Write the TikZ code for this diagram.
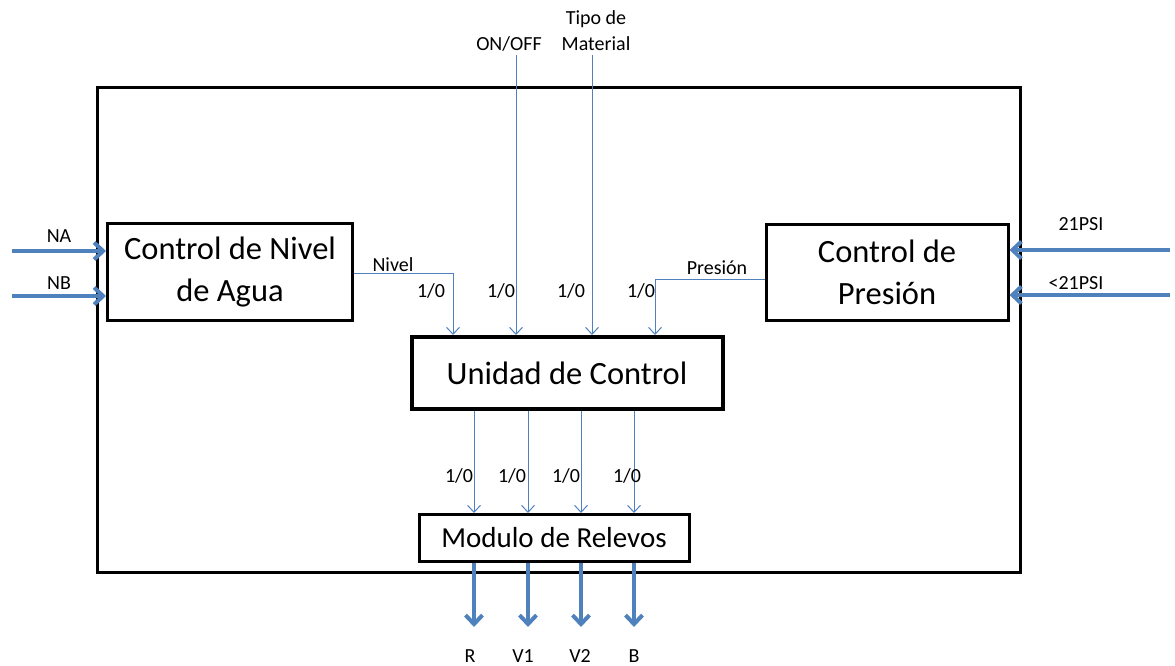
\documentclass[tikz,border=0pt]{standalone}
\usepackage{fontspec}
\setmainfont{Carlito}
\usetikzlibrary{arrows.meta}
\definecolor{sig}{RGB}{79,129,189}
\begin{document}
\begin{tikzpicture}[x=1pt,y=-1pt,
  blk/.style={draw=black,line width=3pt,inner sep=0pt,minimum width=#1},
  big/.style={font=\fontsize{32.5}{42}\selectfont,align=center},
  lbl/.style={font=\fontsize{20}{26}\selectfont,inner sep=0pt},
  thin/.style={draw=sig,line width=1pt,-{Straight Barb[length=7pt,width=13pt]}},
  thick/.style={draw=sig,line width=4pt,-{Straight Barb[length=9pt,width=17pt]}}]
\useasboundingbox (0,0) rectangle (1175,666);
% enclosure
\draw[line width=3pt] (97,88) rectangle (1020,572);
% blocks
\node[blk=245pt,minimum height=97pt,big] (nivel) at (230,272) {Control de Nivel\\de Agua};
\node[blk=242pt,minimum height=96pt,big] (pres) at (887,272) {Control de\\Presión};
\node[blk=311pt,minimum height=72pt,line width=4pt,big] (uc) at (567,373) {Unidad de Control};
\node[blk=270pt,minimum height=47pt,font=\fontsize{29}{34}\selectfont] (mr) at (554,538) {Modulo de Relevos};
% level and pressure inputs
\coordinate (na) at (12,251);
\coordinate (nb) at (12,296);
\coordinate (p1) at (1170,250);
\coordinate (p2) at (1170,295);
\draw[thick] (na) -- (na -| nivel.west);
\draw[thick] (nb) -- (nb -| nivel.west);
\draw[thick] (p1) -- (p1 -| pres.east);
\draw[thick] (p2) -- (p2 -| pres.east);
\node[lbl] (lna) at (59,236) {NA};
\node[lbl] (lnb) at (59,283) {NB};
\node[lbl] (lp1) at (1081,224) {21PSI};
\node[lbl] (lp2) at (1076,283) {<21PSI};
% signals into the control unit
\coordinate (onoff) at (516,55);
\coordinate (mat) at (592,55);
\draw[thin] (nivel.east |- 0,273) -| (453,0 |- uc.north);
\draw[thin] (onoff) -- (onoff |- uc.north);
\draw[thin] (mat) -- (mat |- uc.north);
\draw[thin] (pres.west |- 0,279) -| (655,0 |- uc.north);
\node[lbl] (lonoff) at (509,44) {ON/OFF};
\node[lbl,align=center] (lmat) at (596,31) {Tipo de\\Material};
\node[lbl] (lniv) at (393,265) {Nivel};
\node[lbl] (lpre) at (717,268) {Presión};
\foreach \x/\n in {431/a,501/b,571/c,641/d}
  \node[lbl] (in\n) at (\x,291) {1/0};
% control unit to relay module
\foreach \x/\n in {474/a,528/b,581/c,634/d}{
  \draw[thin] (\x,0 |- uc.south) -- (\x,0 |- mr.north);
}
\foreach \x/\n in {459/a,512/b,566/c,627/d}
  \node[lbl] (out\n) at (\x,476) {1/0};
% relay outputs
\foreach \x/\t/\lx in {474/R/470,528/V1/523,581/V2/580,634/B/634}{
  \draw[thick] (\x,0 |- mr.south) -- (\x,627);
  \node[lbl] at (\lx,656) {\t};
}
\end{tikzpicture}
\end{document}
